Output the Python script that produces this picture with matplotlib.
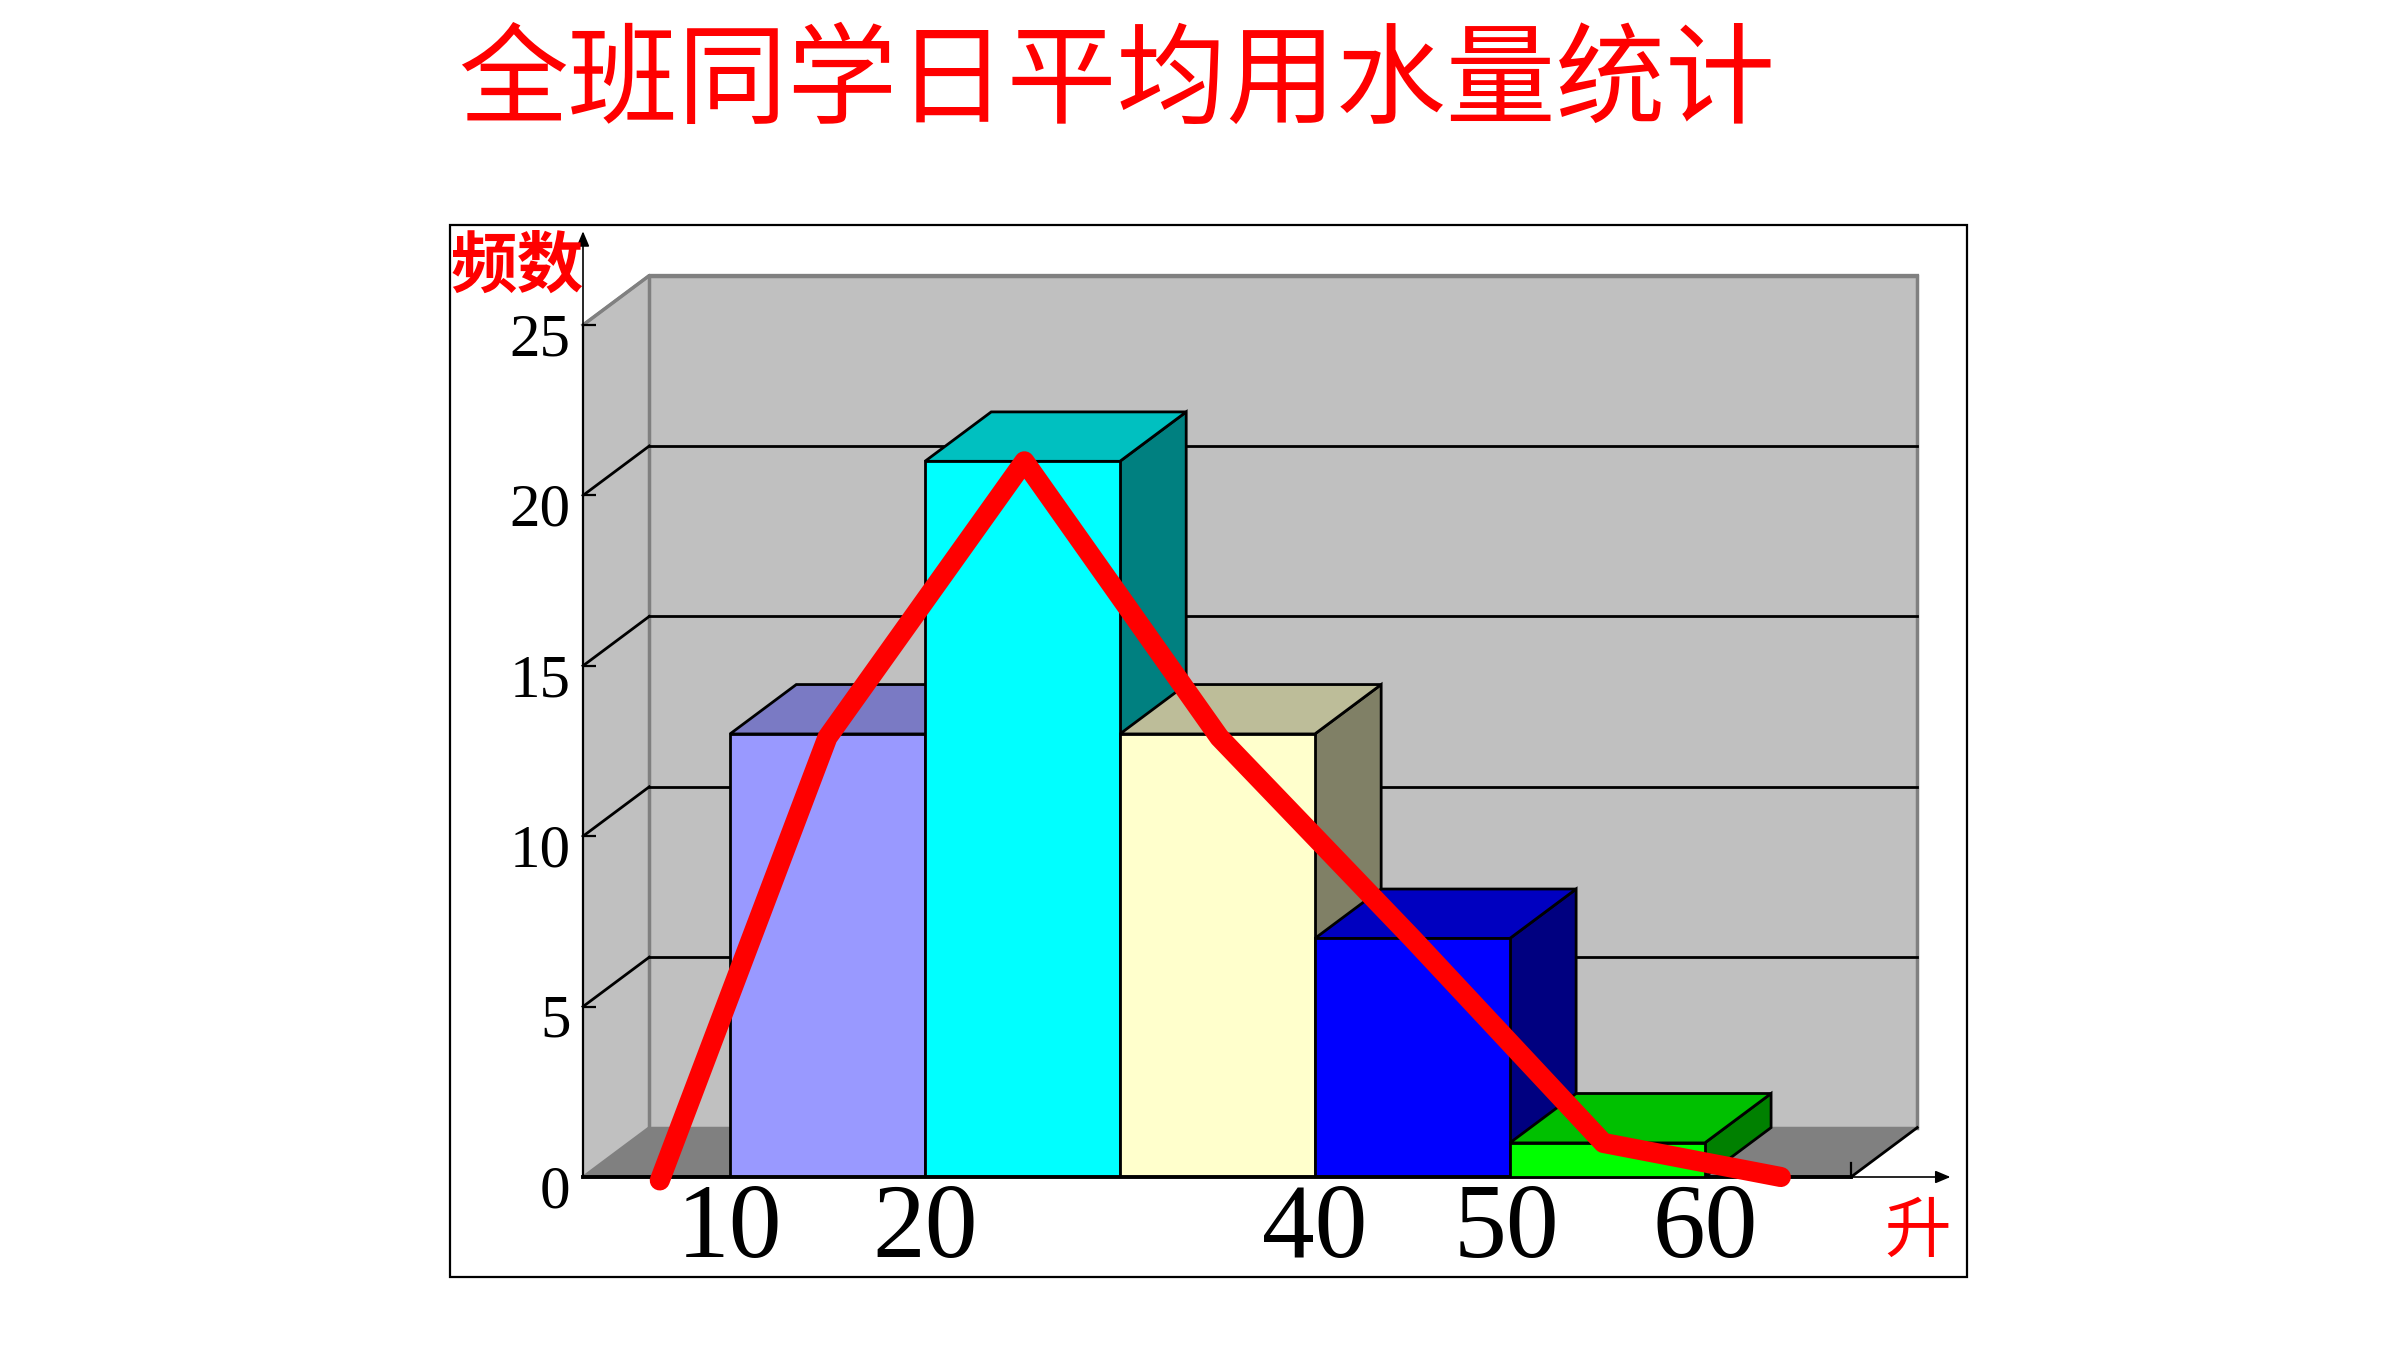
#!/usr/bin/env python

import matplotlib
matplotlib.use("Agg")
import matplotlib.pyplot as plt
from matplotlib.patches import Polygon, Rectangle
from matplotlib.transforms import ScaledTranslation

W, H = 2400, 1350

title = "全班同学日平均用水量统计"
ylabel = "频数"
xlabel = "升"

bin_edges = [10, 20, 30, 40, 50, 60]
freq = [13, 21, 13, 7, 1]

front_colors = ["#9999FF", "#00FFFF", "#FFFFCC", "#0000FF", "#00FF00"]
top_colors = ["#7A7AC4", "#00C0C0", "#BDBD99", "#0000C0", "#00C000"]
side_colors = ["#4D4D80", "#008080", "#808066", "#000080", "#008000"]

yticks = [0, 5, 10, 15, 20, 25]
xtick_pos = [10, 20, 40, 49.8, 60]
xtick_labels = ["10", "20", "40", "50", "60"]

line_x = [6.4, 15, 25.1, 35.1, 45, 54.8, 63.9]
line_y = [-0.1, 12.9, 21, 12.9, 7, 1, 0]

xmin, xmax = 2.46, 67.5
ymax = 25
dx, dy = 3.4, 1.45  # depth of the fake 3d

fig = plt.figure(figsize=(W / 100, H / 100), dpi=100, facecolor="white")
ax = fig.add_axes([583 / W, (H - 1177) / H, (1851 - 583) / W, (1177 - 325) / H])
ax.set_xlim(xmin, xmax)
ax.set_ylim(0, ymax)
ax.patch.set_visible(False)
for s in ["top", "right"]:
    ax.spines[s].set_visible(False)
ax.spines["left"].set_linewidth(1.6)
ax.spines["bottom"].set_linewidth(2.8)
ax.spines["left"].set_zorder(6)
ax.spines["bottom"].set_zorder(6)

# outer frame
fig.add_artist(Rectangle((450 / W, (H - 1277) / H), (1967 - 450) / W, (1277 - 225) / H,
                         fill=False, edgecolor="black", linewidth=1.6,
                         transform=fig.transFigure))

# walls and floor
ax.add_patch(Polygon([(xmin, 0), (xmin + dx, dy), (xmin + dx, ymax + dy), (xmin, ymax)],
                     facecolor="#C0C0C0", edgecolor="none", zorder=1, clip_on=False))
ax.add_patch(Rectangle((xmin + dx, dy), xmax - xmin, ymax,
                       facecolor="#C0C0C0", edgecolor="#808080", linewidth=2.5,
                       zorder=1, clip_on=False))
ax.add_patch(Polygon([(xmin, 0), (xmin + dx, dy), (xmax + dx, dy), (xmax, 0)],
                     facecolor="#808080", edgecolor="none", zorder=1.5, clip_on=False))

# grid on the walls
for v in yticks:
    c = "black" if 0 < v < ymax else "#808080"
    if 0 < v < ymax:
        ax.plot([xmin + dx, xmax + dx], [v + dy, v + dy], color=c, lw=2, zorder=2, clip_on=False)
    ax.plot([xmin, xmin + dx], [v, v + dy], color=c, lw=2, zorder=2, clip_on=False)
ax.plot([xmax, xmax + dx], [0, dy], color="black", lw=2, zorder=2, clip_on=False)
ax.plot([xmin, xmin + dx, xmax + dx], [ymax, ymax + dy, ymax + dy], color="#808080", lw=2.5, zorder=2, clip_on=False)
ax.plot([xmax, xmax], [0, 0.42], color="black", lw=1.6, zorder=2, clip_on=False)

# bars, left to right so the later ones sit on top
for i, v in enumerate(freq):
    x0, x1 = bin_edges[i], bin_edges[i + 1]
    z = 3 + i
    ax.add_patch(Polygon([(x1, 0), (x1 + dx, dy), (x1 + dx, v + dy), (x1, v)],
                         facecolor=side_colors[i], edgecolor="black", linewidth=2, zorder=z))
    ax.add_patch(Polygon([(x0, v), (x0 + dx, v + dy), (x1 + dx, v + dy), (x1, v)],
                         facecolor=top_colors[i], edgecolor="black", linewidth=2, zorder=z))
    ax.bar(x0, v, width=x1 - x0, align="edge", color=front_colors[i],
           edgecolor="black", linewidth=2, zorder=z)

ax.plot(line_x, line_y, color="#FF0000", lw=14.5, solid_capstyle="round",
        solid_joinstyle="round", zorder=10, clip_on=False)

# axis arrows
ax.annotate("", xy=(72.6, 0), xytext=(xmax, 0), annotation_clip=False,
            arrowprops=dict(arrowstyle="-|>,head_length=0.9,head_width=0.38", color="black",
                            lw=1.2, shrinkA=0, shrinkB=0))
ax.annotate("", xy=(0, 27.75), xytext=(0, ymax), xycoords=("axes fraction", "data"),
            textcoords=("axes fraction", "data"), annotation_clip=False,
            arrowprops=dict(arrowstyle="-|>,head_length=0.9,head_width=0.38", color="black",
                            lw=1.2, shrinkA=0, shrinkB=0))

# ticks
ax.set_yticks(yticks)
ax.set_yticklabels([str(v) for v in yticks], family="Liberation Serif", fontsize=44)
ax.tick_params(axis="y", direction="in", length=9.5, width=1.6, pad=9)
ylab_shift = ScaledTranslation(0, -9 / 100, fig.dpi_scale_trans)
for t in ax.yaxis.get_major_ticks():
    t.tick1line.set_zorder(7)
    t.label1.set_transform(t.label1.get_transform() + ylab_shift)
ax.set_xticks(xtick_pos)
ax.set_xticklabels(xtick_labels, family="Liberation Serif", fontsize=76)
ax.tick_params(axis="x", length=0, pad=5)
ax.set_axisbelow(False)

cjk = ["Noto Sans CJK SC", "DejaVu Sans"]
fig.text(1117 / W, (H - 84) / H, title, color="#FF0000", fontsize=79, family=cjk,
         ha="center", va="center")
fig.text(517 / W, (H - 267) / H, ylabel, color="#FF0000", fontsize=48, family=cjk,
         weight="bold", ha="center", va="center")
fig.text(1918 / W, (H - 1233) / H, xlabel, color="#FF0000", fontsize=48, family=cjk,
         ha="center", va="center")

fig.savefig("out.png", dpi=100)
